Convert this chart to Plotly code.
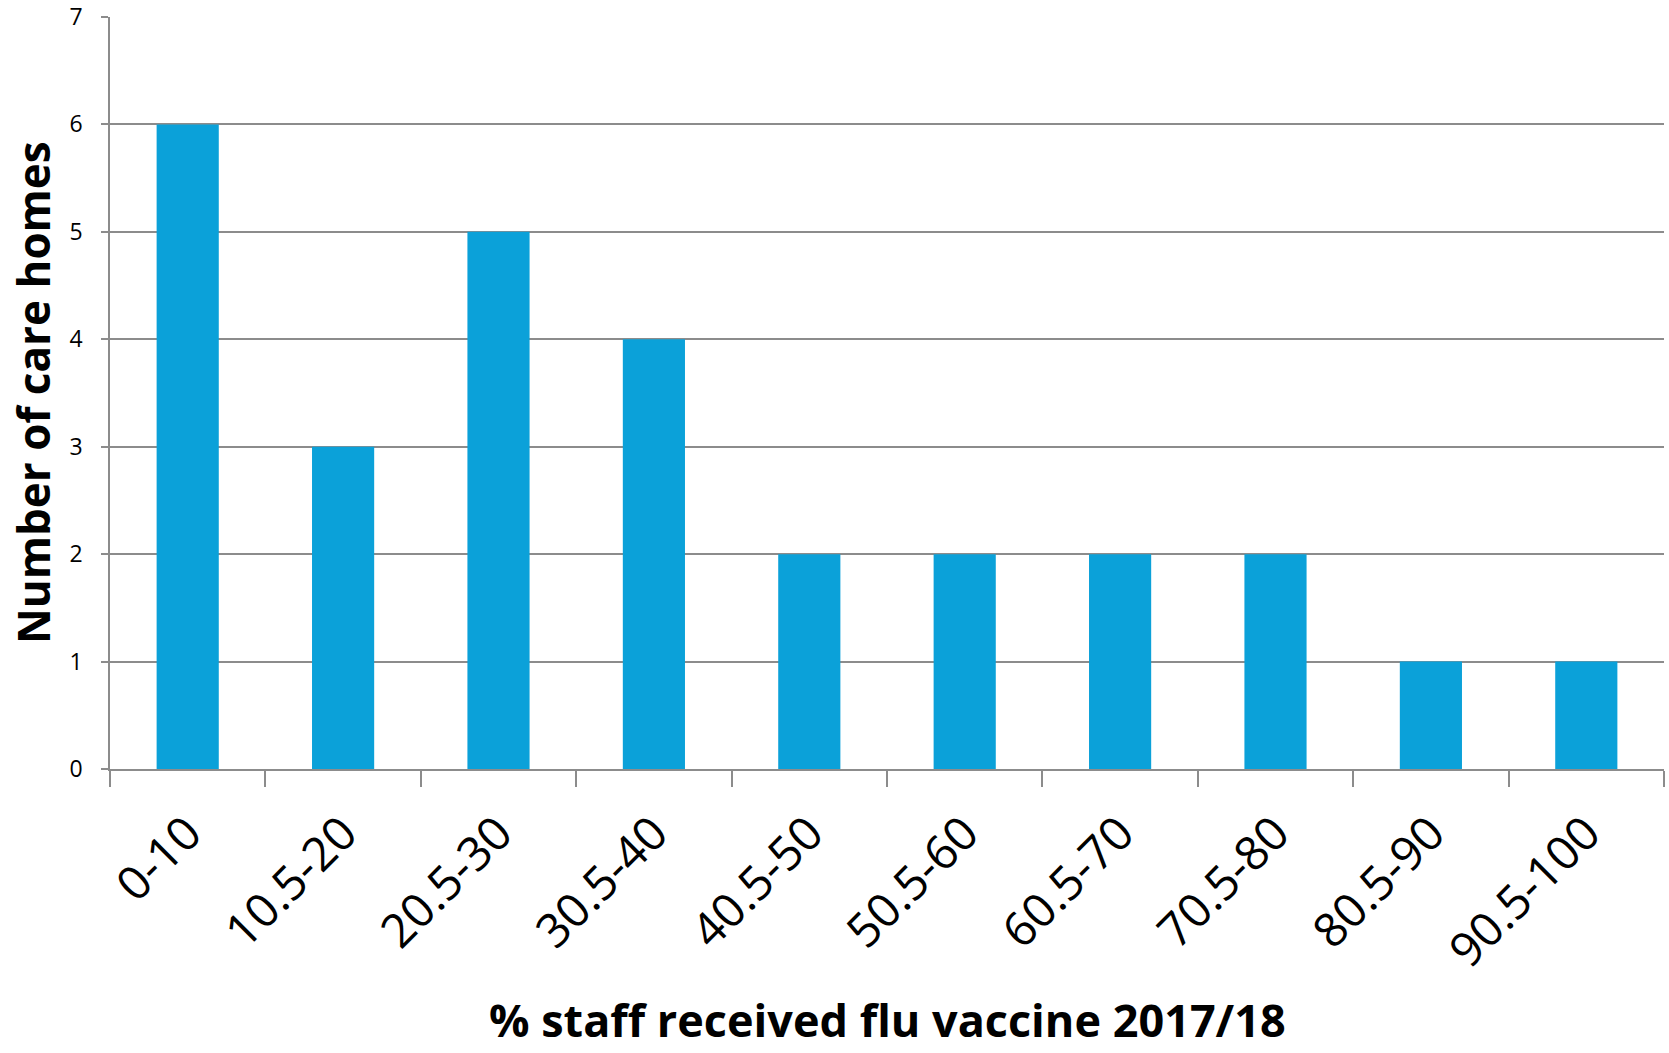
import plotly.graph_objects as go

# Care homes grouped by share of staff vaccinated against flu, 2017/18
bands = ["0-10", "10.5-20", "20.5-30", "30.5-40", "40.5-50",
         "50.5-60", "60.5-70", "70.5-80", "80.5-90", "90.5-100"]
care_homes = [6, 3, 5, 4, 2, 2, 2, 2, 1, 1]
y_ticks = [0, 1, 2, 3, 4, 5, 6, 7]

BAR = "#0BA1D9"
GRID = "#8C8C8C"
FONT = "Open Sans, Noto Sans, sans-serif"

fig = go.Figure(
    go.Bar(x=bands, y=care_homes, marker=dict(color=BAR, line=dict(width=0)))
)

fig.update_layout(
    width=1669,
    height=1053,
    autosize=False,
    margin=dict(l=110, r=5, t=17, b=284),
    paper_bgcolor="white",
    plot_bgcolor="white",
    bargap=0.6,
    showlegend=False,
    font=dict(family=FONT, color="black"),
    annotations=[
        dict(
            text="<b>% staff received flu vaccine 2017/18</b>",
            xref="paper", yref="paper", x=0.5, y=0,
            xanchor="center", yanchor="bottom", yshift=-282,
            borderpad=0,
            showarrow=False, font=dict(size=45, family=FONT, color="black"),
        ),
        dict(
            text="<b>Number of care homes</b>",
            xref="paper", yref="paper", x=0, y=0.5,
            xanchor="center", yanchor="middle", xshift=-77,
            textangle=-90,
            showarrow=False, font=dict(size=44, family=FONT, color="black"),
        ),
    ],
)

fig.update_xaxes(
    type="category",
    automargin=False,
    tickson="boundaries",
    ticks="outside",
    ticklen=16,
    tickwidth=1.5,
    tickcolor=GRID,
    showline=True,
    linecolor=GRID,
    linewidth=1.5,
    showgrid=False,
    tickangle=-45,
    ticklabelstandoff=16,
    tickfont=dict(size=47, family=FONT, color="black"),
)

fig.update_yaxes(
    automargin=False,
    range=[0, 7],
    tickvals=y_ticks,
    ticks="outside",
    ticklen=7,
    tickwidth=1.5,
    tickcolor=GRID,
    showline=True,
    linecolor=GRID,
    linewidth=1.5,
    showgrid=True,
    gridcolor=GRID,
    gridwidth=1.5,
    zeroline=False,
    ticklabelstandoff=14,
    tickfont=dict(size=23, family=FONT, color="black"),
)

fig.write_html("out.html")
